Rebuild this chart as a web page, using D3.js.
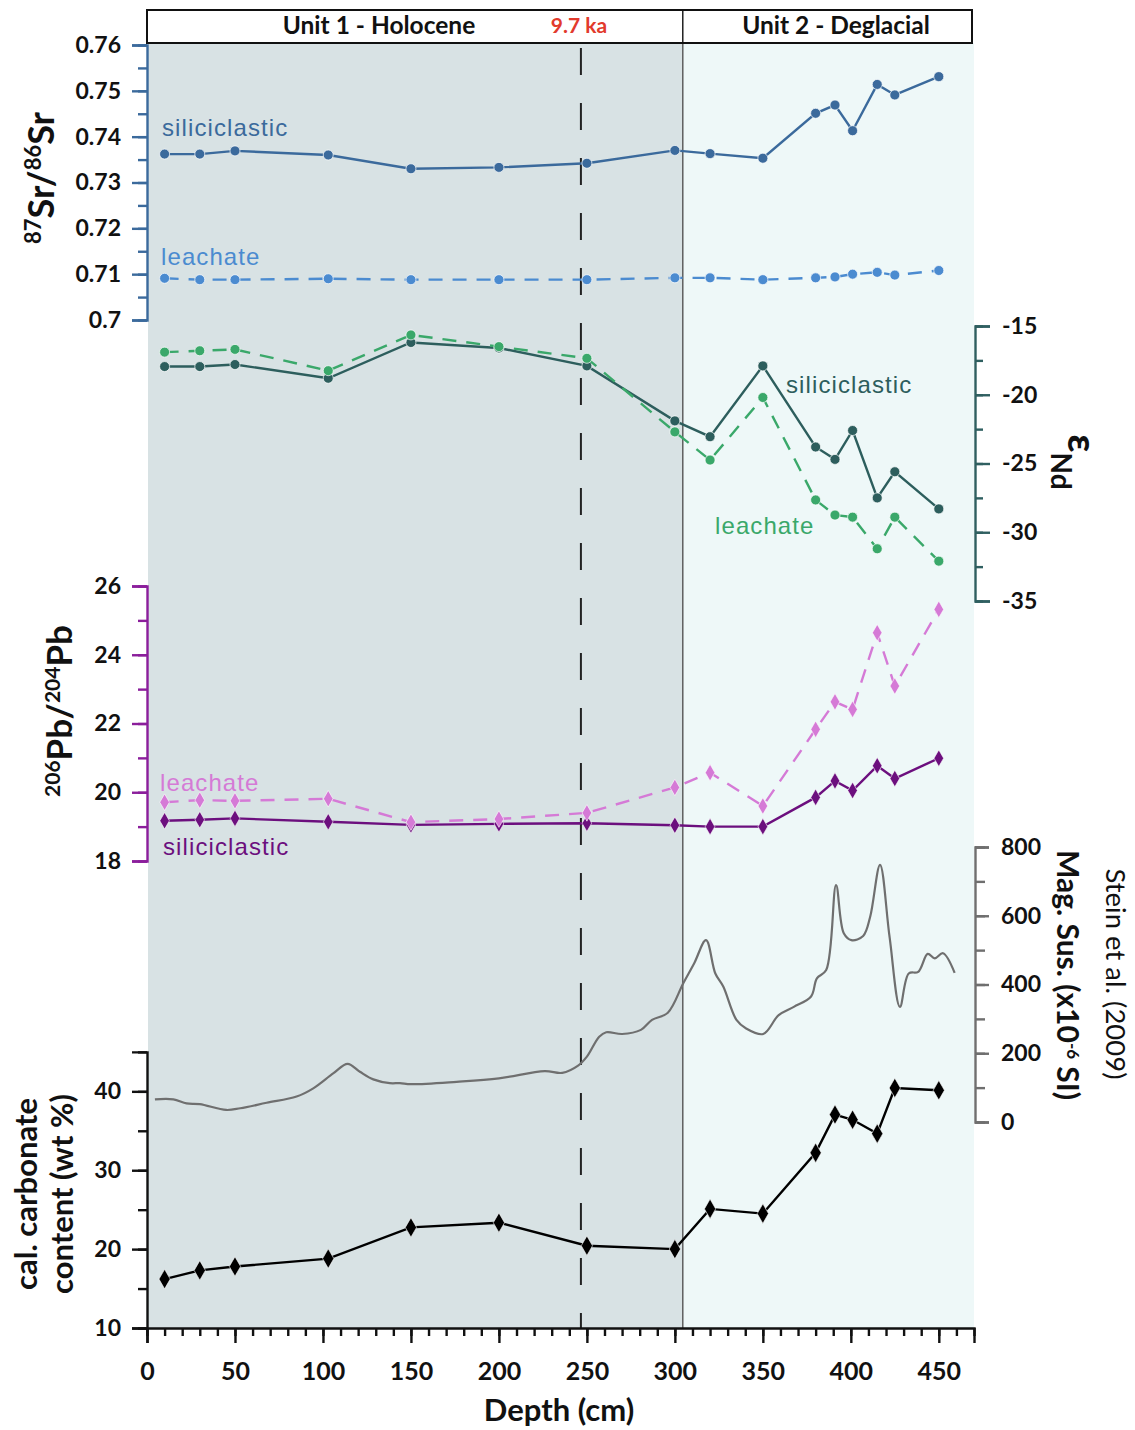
<!DOCTYPE html>
<html>
<head>
<meta charset="utf-8">
<script src="https://cdn.jsdelivr.net/npm/d3@7"></script>
<style>
  html, body { margin: 0; padding: 0; background: #ffffff; }
  svg { display: block; }
  .num { font-family: Lato, "Open Sans", sans-serif; font-weight: 700; font-size: 23px; fill: #111; }
  .title { font-family: Lato, "Open Sans", sans-serif; font-weight: 700; fill: #111; }
  .series { font-family: "Liberation Sans", Arial, sans-serif; font-size: 24px; letter-spacing: 1.1px; }
</style>
</head>
<body>
<svg id="chart" width="1135" height="1430"></svg>
<script>
// Sample depths (cm) shared by all discrete measurements
const sampleDepth = [10, 30, 50, 103, 150, 200, 250, 300, 320, 350, 380, 391, 401, 415, 425, 450];

// 87Sr/86Sr
const srSilic    = [0.7362, 0.7362, 0.7369, 0.7360, 0.7330, 0.7333, 0.7342, 0.7370, 0.7363, 0.7353, 0.7451, 0.7469, 0.7413, 0.7514, 0.7491, 0.7531];
const srLeach    = [0.7091, 0.7088, 0.7088, 0.7090, 0.7088, 0.7088, 0.7088, 0.7092, 0.7092, 0.7088, 0.7092, 0.7094, 0.7100, 0.7104, 0.7098, 0.7108];

// εNd
const ndSilic    = [-17.95, -17.95, -17.8, -18.8, -16.2, -16.6, -17.9, -21.9, -23.05, -17.9, -23.8, -24.7, -22.6, -27.5, -25.6, -28.3];
const ndLeach    = [-16.9, -16.8, -16.7, -18.25, -15.65, -16.5, -17.35, -22.7, -24.75, -20.2, -27.65, -28.75, -28.9, -31.2, -28.9, -32.1];

// 206Pb/204Pb
const pbSilic    = [19.17, 19.20, 19.24, 19.14, 19.05, 19.08, 19.10, 19.04, 19.00, 19.00, 19.85, 20.33, 20.05, 20.77, 20.40, 20.99];
const pbLeach    = [19.71, 19.77, 19.75, 19.81, 19.13, 19.22, 19.40, 20.14, 20.57, 19.60, 21.83, 22.63, 22.41, 24.64, 23.09, 25.32];

// Calcium carbonate content (wt %)
const carbonate  = [16.2, 17.3, 17.8, 18.8, 22.75, 23.35, 20.43, 20.0, 25.1, 24.5, 32.2, 37.05, 36.4, 34.64, 40.43, 40.13];

// Magnetic susceptibility, Stein et al. (2009)
const magDepth = [4.5, 15, 22.5, 30, 45, 53, 68, 85, 94.5, 106, 114, 121, 128.6, 138, 143.75, 150, 176, 200, 226, 236, 245, 250, 257, 261, 270, 280.7, 287, 296, 304.7, 311, 317.7, 323, 327.5, 335, 340.5, 350.2, 359, 367.6, 377.4, 380.7, 386, 391.6, 396, 400.3, 407, 411, 416.6, 422, 427.9, 432.9, 438.3, 443.7, 447.7, 452.4, 459];
const magValue = [66, 66, 54, 52, 35, 40, 56, 74, 98, 142, 169, 146, 124, 113, 113, 110, 117, 127, 148, 143, 164, 190, 248, 261, 256, 268, 297, 318, 403, 462, 529, 432, 394, 297, 272, 256, 311, 335, 365, 418, 442, 689, 549, 529, 541, 597, 748, 539, 335, 432, 437, 489, 476, 491, 434];

// Axis ticks
const depthMajor = [0, 50, 100, 150, 200, 250, 300, 350, 400, 450];
const srTicks    = [0.70, 0.71, 0.72, 0.73, 0.74, 0.75, 0.76];
const ndTicks    = [-15, -20, -25, -30, -35];
const pbTicks    = [18, 20, 22, 24, 26];
const magTicks   = [0, 200, 400, 600, 800];
const carbTicks  = [10, 20, 30, 40];

// Stratigraphic units
const unitBoundary = 304.5;   // Holocene / deglacial boundary (cm)
const ageMarkDepth = 246.6;   // 9.7 ka level (cm)

const svg = d3.select("#chart");

const x     = d3.scaleLinear().domain([0, 470]).range([147, 974]);
const ySr   = d3.scaleLinear().domain([0.70, 0.76]).range([320, 45]);
const yNd   = d3.scaleLinear().domain([-35, -15]).range([601, 326]);
const yPb   = d3.scaleLinear().domain([18, 26]).range([861, 586]);
const yMag  = d3.scaleLinear().domain([0, 800]).range([1122, 847]);
const yCarb = d3.scaleLinear().domain([10, 45]).range([1328, 1051.9]);

const col = {
  srSilic: "#3b6a9c", srLeach: "#4b8bd0",
  ndAxis: "#2f5f60", ndSilic: "#2d5e5d", ndLeach: "#3aa86a",
  pbAxis: "#8b1e9b", pbSilic: "#6c0f7e", pbLeach: "#d57ad6",
  mag: "#6f6f6f", carb: "#000000"
};

// Background shading for the two units
const plotTop = 43, plotBottom = 1328;
svg.append("rect").attr("x", x(0) + 1).attr("y", plotTop)
  .attr("width", x(unitBoundary) - x(0) - 1).attr("height", plotBottom - plotTop)
  .attr("fill", "#d8e2e4");
svg.append("rect").attr("x", x(unitBoundary)).attr("y", plotTop)
  .attr("width", x(470) - x(unitBoundary)).attr("height", plotBottom - plotTop)
  .attr("fill", "#eef8f8");

// Unit boundary and 9.7 ka marker
svg.append("line").attr("x1", x(unitBoundary)).attr("x2", x(unitBoundary))
  .attr("y1", 10).attr("y2", plotBottom).attr("stroke", "#555").attr("stroke-width", 1.4);
svg.append("line").attr("x1", x(ageMarkDepth)).attr("x2", x(ageMarkDepth))
  .attr("y1", 48).attr("y2", plotBottom).attr("stroke", "#222").attr("stroke-width", 2)
  .attr("stroke-dasharray", "27,28");

// Header box
svg.append("rect").attr("x", 147).attr("y", 10).attr("width", 825).attr("height", 33)
  .attr("fill", "#fff").attr("stroke", "#111").attr("stroke-width", 2);
svg.append("line").attr("x1", x(unitBoundary)).attr("x2", x(unitBoundary))
  .attr("y1", 10).attr("y2", 43).attr("stroke", "#111").attr("stroke-width", 1.4);
svg.append("text").attr("class", "title").attr("x", 379).attr("y", 34)
  .attr("text-anchor", "middle").attr("font-size", 24.5).text("Unit 1 - Holocene");
svg.append("text").attr("class", "title").attr("x", 579).attr("y", 33)
  .attr("text-anchor", "middle").attr("font-size", 21).style("fill", "#e23a2c").text("9.7 ka");
svg.append("text").attr("class", "title").attr("x", 836).attr("y", 34)
  .attr("text-anchor", "middle").attr("font-size", 24.5).text("Unit 2 - Deglacial");

// Axis helper: minor ticks then labelled major ticks
function drawAxis(axisFn, scale, pos, majors, minors, color, fmt, majLen, minLen, pad) {
  const gMin = svg.append("g").attr("transform", pos)
    .call(axisFn(scale).tickValues(minors).tickSize(minLen).tickFormat(""));
  const gMaj = svg.append("g").attr("transform", pos)
    .call(axisFn(scale).tickValues(majors).tickSize(majLen).tickPadding(pad).tickFormat(fmt));
  [gMin, gMaj].forEach(g => {
    g.selectAll("path").attr("stroke", color).attr("stroke-width", 2.4);
    g.selectAll("line").attr("stroke", color).attr("stroke-width", 2.4);
    g.selectAll("text").attr("class", "num").attr("font-size", null).attr("font-family", null);
  });
  gMin.select("path").remove();
  return gMaj;
}

const rng = (a, b, s) => d3.range(a, b + s / 2, s);
const plain = d => String(d);

drawAxis(d3.axisLeft, ySr, "translate(147,0)", srTicks, rng(0.70, 0.76, 0.005), col.srSilic,
  d => (d === 0.70 ? "0.7" : d3.format(".2f")(d)), 15, 9, 11);
drawAxis(d3.axisRight, yNd, "translate(975,0)", ndTicks, rng(-35, -15, 2.5), col.ndAxis, plain, 15, 8, 12);
drawAxis(d3.axisLeft, yPb, "translate(147,0)", pbTicks, rng(18, 26, 1), col.pbAxis, plain, 15, 9, 11);
drawAxis(d3.axisRight, yMag, "translate(975,0)", magTicks, rng(0, 800, 100), col.mag, plain, 14, 10, 12);
drawAxis(d3.axisLeft, yCarb, "translate(147,0)", carbTicks, rng(10, 45, 5), "#111", plain, 15, 9, 11);
drawAxis(d3.axisBottom, x, "translate(0,1328)", depthMajor, rng(0, 470, 10), "#111", plain, 15, 8, 19)
  .selectAll("text").style("font-size", "25px");

// Axis titles
const srT = svg.append("text").attr("class", "title")
  .attr("transform", "translate(54,178) rotate(-90)").attr("text-anchor", "middle").attr("font-size", 36);
srT.append("tspan").attr("baseline-shift", "super").attr("font-size", 22).text("87");
srT.append("tspan").text("Sr/");
srT.append("tspan").attr("baseline-shift", "super").attr("font-size", 22).text("86");
srT.append("tspan").text("Sr");

const pbT = svg.append("text").attr("class", "title")
  .attr("transform", "translate(72,711) rotate(-90)").attr("text-anchor", "middle").attr("font-size", 35);
pbT.append("tspan").attr("baseline-shift", "super").attr("font-size", 21).text("206");
pbT.append("tspan").text("Pb/");
pbT.append("tspan").attr("baseline-shift", "super").attr("font-size", 21).text("204");
pbT.append("tspan").text("Pb");

const ndT = svg.append("text").attr("class", "title")
  .attr("transform", "translate(1068,462) rotate(90)").attr("text-anchor", "middle").attr("font-size", 40);
ndT.append("tspan").text("ε");
ndT.append("tspan").attr("baseline-shift", "sub").attr("font-size", 28).text("Nd");

svg.append("text").attr("class", "title").attr("font-size", 30)
  .attr("transform", "translate(1057,975) rotate(90)").attr("text-anchor", "middle")
  .call(t => {
    t.append("tspan").text("Mag. Sus. (x10");
    t.append("tspan").attr("baseline-shift", "super").attr("font-size", 17).text("-6");
    t.append("tspan").text(" SI)");
  });
svg.append("text").attr("font-family", "Lato, 'Open Sans', sans-serif").attr("font-size", 27.5).attr("fill", "#111")
  .attr("transform", "translate(1106,974) rotate(90)").attr("text-anchor", "middle")
  .text("Stein et al. (2009)");

svg.append("text").attr("class", "title").attr("font-size", 31)
  .attr("transform", "translate(37,1194) rotate(-90)").attr("text-anchor", "middle").text("cal. carbonate");
svg.append("text").attr("class", "title").attr("font-size", 31)
  .attr("transform", "translate(73,1194) rotate(-90)").attr("text-anchor", "middle").text("content (wt %)");

svg.append("text").attr("class", "title").attr("font-size", 31)
  .attr("x", 559).attr("y", 1421).attr("text-anchor", "middle").text("Depth (cm)");

// Series drawing helpers
const diamond = d3.symbol().type(d3.symbolDiamond);

function series(values, yScale, color, opts) {
  const pts = sampleDepth.map((d, i) => [d, values[i]]);
  const line = d3.line().x(d => x(d[0])).y(d => yScale(d[1]));
  svg.append("path").datum(pts).attr("d", line).attr("fill", "none")
    .attr("stroke", color).attr("stroke-width", opts.width || 2.4)
    .attr("stroke-dasharray", opts.dash || null);
  if (opts.marker === "diamond") {
    svg.append("g").selectAll("path").data(pts).join("path")
      .attr("transform", d => `translate(${x(d[0])},${yScale(d[1])})`)
      .attr("d", diamond.size(opts.size || 80)).attr("fill", color)
      .attr("stroke", "#fff").attr("stroke-width", 0.6);
  } else {
    svg.append("g").selectAll("circle").data(pts).join("circle")
      .attr("cx", d => x(d[0])).attr("cy", d => yScale(d[1])).attr("r", opts.r || 5)
      .attr("fill", color).attr("stroke", "#fff").attr("stroke-width", 0.7);
  }
}

// Mag. Sus. curve
svg.append("path").datum(magDepth.map((d, i) => [d, magValue[i]]))
  .attr("d", d3.line().x(d => x(d[0])).y(d => yMag(d[1])).curve(d3.curveCatmullRom.alpha(0.5)))
  .attr("fill", "none").attr("stroke", col.mag).attr("stroke-width", 2.2);

series(srSilic, ySr, col.srSilic, {});
series(srLeach, ySr, col.srLeach, { dash: "14,10" });
series(ndSilic, yNd, col.ndSilic, {});
series(ndLeach, yNd, col.ndLeach, { dash: "14,10" });
series(pbSilic, yPb, col.pbSilic, { marker: "diamond" });
series(pbLeach, yPb, col.pbLeach, { marker: "diamond", dash: "14,10" });
series(carbonate, yCarb, col.carb, { marker: "diamond", size: 110 });

// Series labels
const lbl = (txt, xx, yy, color) => svg.append("text").attr("class", "series")
  .attr("x", xx).attr("y", yy).attr("fill", color).text(txt);
lbl("siliciclastic", 162, 136, col.srSilic);
lbl("leachate", 161, 265, col.srLeach);
lbl("siliciclastic", 786, 393, col.ndSilic);
lbl("leachate", 715, 534, col.ndLeach);
lbl("leachate", 160, 791, col.pbLeach);
lbl("siliciclastic", 163, 855, col.pbSilic);
</script>
</body>
</html>
